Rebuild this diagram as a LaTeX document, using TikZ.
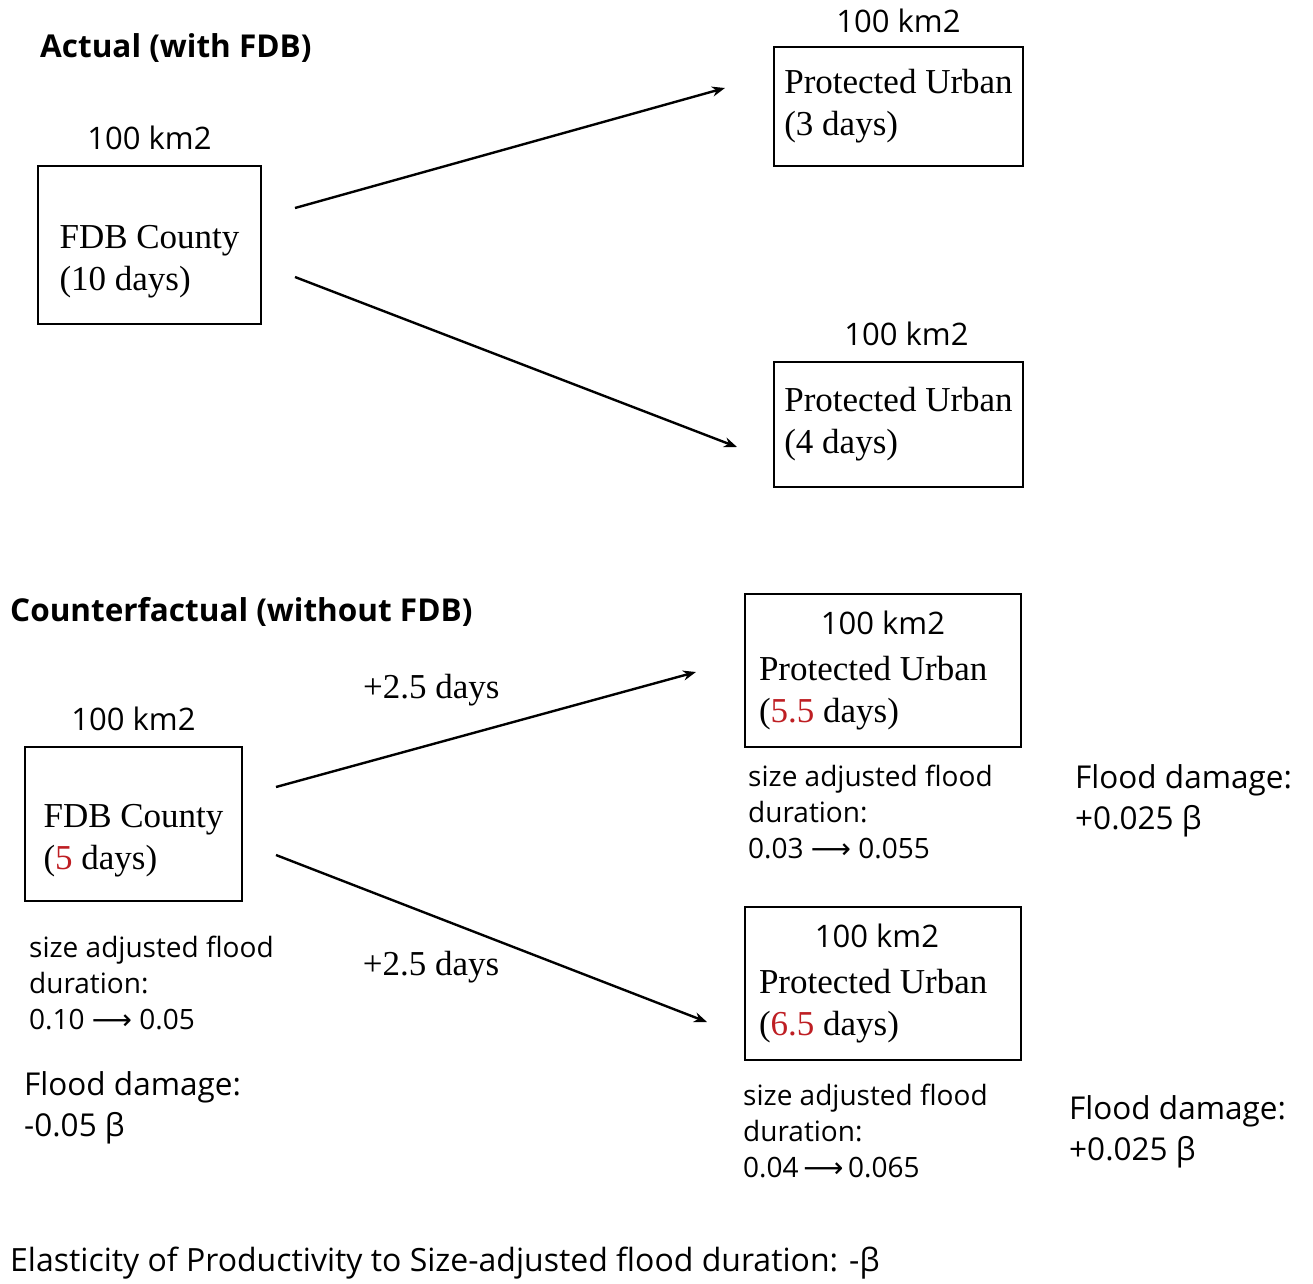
\documentclass[tikz,border=0pt]{standalone}
\usepackage{fontspec}
\setmainfont{Liberation Serif}
\setsansfont{Open Sans}
\newfontfamily\arrowfont{DejaVu Sans}
\usetikzlibrary{arrows.meta}
\definecolor{durred}{RGB}{190,30,35}
\newcommand{\boxfont}{\fontsize{35}{42}\selectfont}
\newcommand{\areafont}{\fontsize{31}{36}\selectfont\sffamily}
\newcommand{\notefont}{\fontsize{28}{36}\selectfont\sffamily}
\newcommand{\dmgfont}{\fontsize{31.5}{41}\selectfont\sffamily}
\newcommand{\headfont}{\fontsize{31.5}{36}\selectfont\sffamily\bfseries}
\newcommand{\upd}[1]{\textcolor{durred}{#1}}
\newcommand{\durarrow}{{\arrowfont ⟶}}

\begin{document}
\begin{tikzpicture}[x=1pt, y=-1pt, >={Stealth[length=13pt, width=10pt]},
  block/.style={rectangle, draw, line width=2.4pt, inner sep=0pt, align=left, font=\boxfont},
  wideblock/.style={block, minimum width=276pt, minimum height=153pt, text width=248pt,
    execute at begin node={\spaceskip=0pt\xspaceskip=0pt}},
  area/.style={font=\areafont, inner sep=0pt},
  note/.style={anchor=west, inner sep=0pt, align=left, font=\notefont},
  dmg/.style={anchor=west, inner sep=0pt, align=left, font=\dmgfont},
  head/.style={anchor=west, inner sep=0pt, font=\headfont},
  flow/.style={->, line width=2.4pt}]

  \useasboundingbox (0,0) rectangle (1313,1283);

  % actual
  \node[head] (acttitle) at (40,48) {Actual (with FDB)};
  \node[block, minimum width=223pt, minimum height=158pt, text height=99pt,
    label={[area, label distance=15pt]above:100 km2}] (fdb) at (149.5,245) {FDB County\\(10 days)};
  \node[block, minimum width=249pt, minimum height=119pt,
    label={[area, label distance=13pt]above:100 km2}] (urb1) at (898.5,106.5) {Protected Urban\\(3 days)};
  \node[block, minimum width=249pt, minimum height=125pt,
    label={[area, label distance=15pt, xshift=8pt]above:100 km2}] (urb2) at (898.5,424.5) {Protected Urban\\(4 days)};

  \coordinate (a1s) at (295,208);
  \coordinate (a1e) at (725,88);
  \coordinate (a2s) at (295,277);
  \coordinate (a2e) at (737,447);
  \draw[flow] (a1s) -- (a1e);
  \draw[flow] (a2s) -- (a2e);

  % counterfactual
  \node[head] (cftitle) at (10,612) {Counterfactual (without FDB)};
  \node[block, minimum width=217pt, minimum height=154pt, text height=98pt,
    label={[area, label distance=15pt]above:100 km2}] (cfdb) at (133.5,824) {FDB County\\(\upd{5} days)};
  \node[wideblock] (cfurb1) at (883,670.5)
    {\makebox[\linewidth]{\areafont 100 km2}\\[4pt]Protected Urban\\(\upd{5.5} days)};
  \node[wideblock] (cfurb2) at (883,983.5)
    {\makebox[\linewidth]{\areafont 100 km2\hspace*{12pt}}\\[4pt]Protected Urban\\(\upd{6.5} days)};

  \coordinate (c1s) at (276,787);
  \coordinate (c1e) at (696,672);
  \coordinate (c2s) at (276,855);
  \coordinate (c2e) at (707,1022);
  \draw[flow] (c1s) -- node[pos=0.37, yshift=54pt, font=\boxfont] (gain1) {+2.5 days} (c1e);
  \draw[flow] (c2s) -- node[pos=0.36, yshift=-52pt, font=\boxfont] (gain2) {+2.5 days} (c2e);

  \node[note] (cfnote) at (29,983) {size adjusted flood\\duration:\\0.10 \durarrow{} 0.05};
  \node[dmg] (cfdmg) at (24,1107.5) {Flood damage:\\-0.05 β};
  \node[note] (u1note) at (748,812) {size adjusted flood\\duration:\\0.03 \durarrow{} 0.055};
  \node[dmg] (u1dmg) at (1075,801) {Flood damage:\\+0.025 β};
  \node[note] (u2note) at (743,1131) {size adjusted flood\\duration:\\0.04\,\durarrow\,0.065};
  \node[dmg] (u2dmg) at (1069,1131.5) {Flood damage:\\+0.025 β};

  \node[note, font=\fontsize{32}{36}\selectfont\sffamily] (elast) at (10,1263)
    {Elasticity of Productivity to Size-adjusted flood duration: -β};

\end{tikzpicture}
\end{document}
